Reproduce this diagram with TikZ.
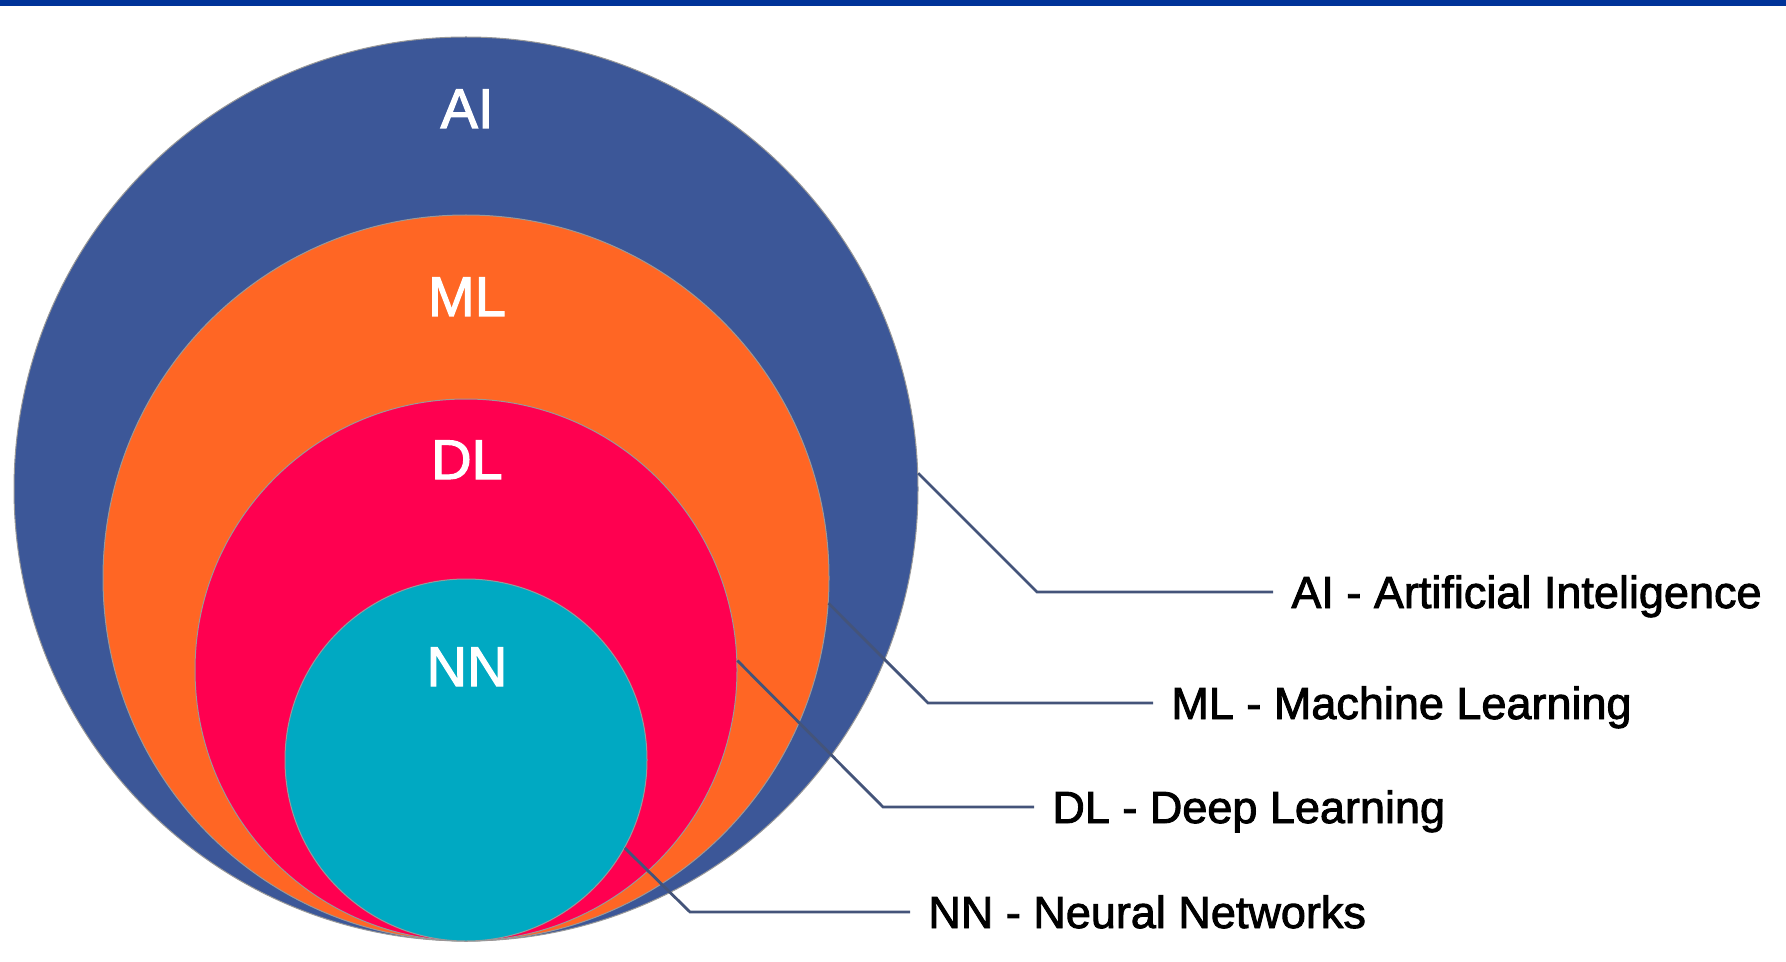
\documentclass[tikz,border=0pt]{standalone}
\usepackage{fontspec}
\setmainfont{Liberation Sans}
\newfontfamily\medsans{Liberation Sans}[FakeBold=2]
\usetikzlibrary{positioning,calc}
\definecolor{aiblue}{RGB}{60,87,152}
\definecolor{mlorange}{RGB}{255,102,36}
\definecolor{dlred}{RGB}{255,0,80}
\definecolor{nnteal}{RGB}{0,169,194}
\definecolor{barblue}{RGB}{0,51,153}
\definecolor{connline}{RGB}{68,84,122}
\begin{document}
\begin{tikzpicture}[x=0.5pt, y=-0.5pt,
    ring/.style={circle, inner sep=0, draw=black!40, line width=0.5pt},
    inlabel/.style={text=white, font=\medsans\fontsize{28}{30}\selectfont,
      text height=20pt, text depth=0pt, inner sep=0},
    keylabel/.style={anchor=west, font=\medsans\fontsize{22.5}{26}\selectfont,
      text height=16pt, text depth=0pt, inner sep=9pt},
    conn/.style={draw=connline, line width=1.4pt}]
  \useasboundingbox (0,0) rectangle (1786,962);
  \fill[barblue] (0,0) rectangle (1786,6);
  % nested circles, all touching at the bottom
  \node[ring, fill=aiblue, minimum size=452pt] (ai) at (466,489) {};
  \node[ring, fill=mlorange, minimum size=363pt] (ml) at (466,578) {};
  \node[ring, fill=dlred, minimum size=271pt] (dl) at (466,670) {};
  \node[ring, fill=nnteal, minimum size=181pt] (nn) at (466,760) {};
  \node[inlabel] (ainame) at (467,108) {AI};
  \node[inlabel] (mlname) at (467,296) {ML};
  \node[inlabel] (dlname) at (467,459) {DL};
  \node[inlabel] (nnname) at (467,666) {NN};
  % legend on the right
  \node[keylabel] (aitext) at (1273,592) {AI - Artificial Inteligence};
  \node[keylabel] (mltext) at (1153,703) {ML - Machine Learning};
  \node[keylabel] (dltext) at (1034,807) {DL - Deep Learning};
  \node[keylabel] (nntext) at (910,912) {NN - Neural Networks};
  \coordinate (aibend) at (1037,592);
  \coordinate (mlbend) at (928,703);
  \coordinate (dlbend) at (883,807);
  \coordinate (nnbend) at (690,912);
  \draw[conn] (ai.2) -- (aibend) -- (aitext.west);
  \draw[conn] (ml.-4) -- (mlbend) -- (mltext.west);
  \draw[conn] (dl.2) -- (dlbend) -- (dltext.west);
  \draw[conn] (nn.-29) -- (nnbend) -- (nntext.west);
\end{tikzpicture}
\end{document}
